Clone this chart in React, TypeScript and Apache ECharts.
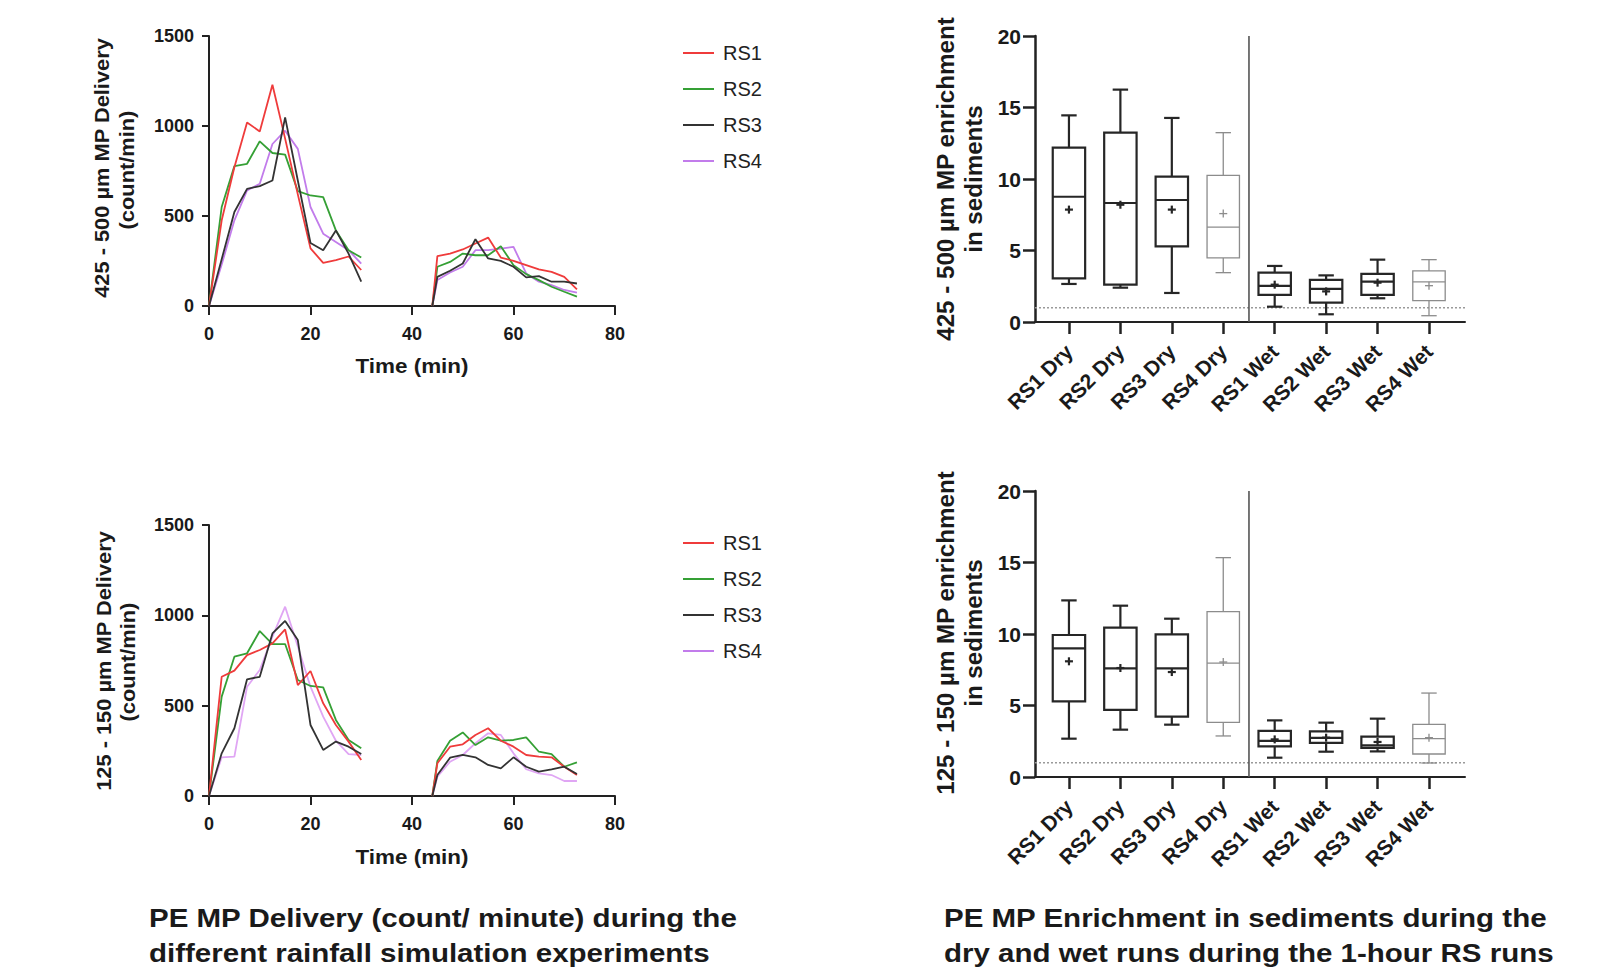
import React, { useEffect, useRef } from "react";
import * as echarts from "echarts";

// ---------- DATA ----------
const timesRun1 = [0, 2.5, 5, 7.5, 10, 12.5, 15, 17.5, 20, 22.5, 25, 27.5, 30];
const timesRun2 = [44, 45, 47.5, 50, 52.5, 55, 57.5, 60, 62.5, 65, 67.5, 70, 72.5];
const seriesNames = ["RS1", "RS2", "RS3", "RS4"];

// 425 - 500 µm delivery (count/min)
const big_RS1_run1 = [0, 476, 771, 1020, 970, 1229, 930, 620, 320, 240, 255, 275, 200];
const big_RS1_run2 = [0, 277, 291, 314, 347, 380, 269, 251, 227, 203, 190, 162, 92];
const big_RS2_run1 = [0, 550, 777, 790, 915, 850, 841, 638, 614, 605, 420, 310, 269];
const big_RS2_run2 = [0, 218, 245, 291, 282, 282, 332, 227, 177, 144, 107, 79, 52];
const big_RS3_run1 = [0, 260, 522, 651, 666, 697, 1048, 697, 350, 310, 420, 291, 135];
const big_RS3_run2 = [0, 162, 196, 236, 371, 264, 251, 218, 159, 166, 135, 135, 125];
const big_RS4_run1 = [0, 230, 476, 642, 679, 900, 974, 873, 550, 402, 356, 310, 236];
const big_RS4_run2 = [0, 144, 186, 218, 310, 310, 319, 328, 181, 135, 116, 89, 74];

// 125 - 150 µm delivery (count/min)
const small_RS1_run1 = [0, 660, 694, 780, 808, 845, 922, 614, 692, 513, 393, 301, 199];
const small_RS1_run2 = [0, 181, 273, 286, 338, 375, 306, 273, 227, 218, 214, 162, 116];
const small_RS2_run1 = [0, 550, 771, 790, 913, 841, 841, 642, 609, 601, 421, 310, 264];
const small_RS2_run2 = [0, 194, 306, 352, 282, 325, 306, 310, 325, 245, 232, 162, 186];
const small_RS3_run1 = [0, 236, 375, 646, 660, 900, 969, 863, 393, 255, 301, 273, 232];
const small_RS3_run2 = [0, 116, 212, 227, 214, 172, 153, 214, 162, 135, 148, 162, 122];
const small_RS4_run1 = [0, 214, 218, 605, 697, 882, 1048, 827, 605, 439, 306, 232, 227];
const small_RS4_run2 = [0, 107, 190, 227, 292, 347, 338, 236, 148, 125, 116, 83, 83];

// Enrichment box plots: [min, Q1, median, Q3, max, mean]
const boxCategories = ["RS1 Dry", "RS2 Dry", "RS3 Dry", "RS4 Dry", "RS1 Wet", "RS2 Wet", "RS3 Wet", "RS4 Wet"];
const bigBoxStats = [
  [2.66, 3.05, 8.76, 12.2, 14.45, 7.86],
  [2.4, 2.61, 8.32, 13.24, 16.25, 8.2],
  [2.03, 5.29, 8.53, 10.16, 14.27, 7.86],
  [3.45, 4.48, 6.64, 10.26, 13.24, 7.58],
  [1.07, 1.89, 2.52, 3.45, 3.92, 2.61],
  [0.54, 1.35, 2.31, 2.94, 3.26, 2.14],
  [1.66, 1.89, 2.82, 3.36, 4.36, 2.75],
  [0.44, 1.49, 2.8, 3.57, 4.36, 2.54],
];
const smallBoxStats = [
  [2.68, 5.29, 9.0, 9.93, 12.35, 8.09],
  [3.31, 4.69, 7.6, 10.44, 11.98, 7.62],
  [3.66, 4.22, 7.6, 9.98, 11.07, 7.34],
  [2.87, 3.82, 7.97, 11.56, 15.34, 8.04],
  [1.35, 2.14, 2.52, 3.22, 3.96, 2.63],
  [1.77, 2.38, 2.73, 3.19, 3.8, 2.75],
  [1.79, 2.03, 2.21, 2.82, 4.08, 2.45],
  [0.98, 1.61, 2.68, 3.68, 5.87, 2.75],
];
const enrichmentReference = 1; // dotted reference line
const dryWetDivider = 3.5; // between RS4 Dry and RS1 Wet

// ---------- STYLE ----------
const FONT = "'Liberation Sans', Arial, sans-serif";
const lineColorsTop = ["#ef3b3b", "#35a035", "#333333", "#c27ceb"];
const lineColorsBottom = ["#ef3b3b", "#35a035", "#333333", "#e0a6f4"];
const grayBoxIdx = [3, 7];

const buildLineData = (run1: number[], run2: number[]) => [
  ...timesRun1.map((t, i) => [t, run1[i]]),
  [37, "-"],
  ...timesRun2.map((t, i) => [t, run2[i]]),
];

export default function App() {
  const ref = useRef<HTMLDivElement>(null);

  useEffect(() => {
    if (!ref.current) return;
    const chart = echarts.init(ref.current, undefined, { renderer: "svg" });

    const axisLineStyle = { color: "#222", width: 2 };
    const lineGrids = [
      { left: 209, top: 36, width: 406, height: 270 },
      { left: 209, top: 525, width: 406, height: 271 },
    ];
    const boxGrids = [
      { left: 1035, top: 36, width: 430, height: 286 },
      { left: 1035, top: 491, width: 430, height: 286 },
    ];

    const xAxes: any[] = [];
    const yAxes: any[] = [];
    [0, 1].forEach((g) => {
      xAxes.push({
        type: "value",
        gridIndex: g,
        min: 0,
        max: 80,
        interval: 20,
        splitLine: { show: false },
        axisLine: { show: true, lineStyle: axisLineStyle, onZero: false },
        axisTick: { show: true, length: 9, lineStyle: { color: "#222", width: 2 } },
        axisLabel: { margin: 19, fontFamily: FONT, fontWeight: "bold", fontSize: 18, color: "#1a1a1a" },
      });
      yAxes.push({
        type: "value",
        gridIndex: g,
        min: 0,
        max: 1500,
        interval: 500,
        splitLine: { show: false },
        axisLine: { show: true, lineStyle: axisLineStyle, onZero: false },
        axisTick: { show: true, length: 7, lineStyle: { color: "#222", width: 2 } },
        axisLabel: {
          margin: 15,
          fontFamily: FONT,
          fontWeight: "bold",
          fontSize: 18,
          color: "#1a1a1a",
          formatter: (v: number) => String(v),
        },
      });
    });
    [2, 3].forEach((g) => {
      xAxes.push({
        type: "value",
        gridIndex: g,
        min: -0.66,
        max: 7.7,
        splitLine: { show: false },
        axisLine: { show: true, lineStyle: axisLineStyle, onZero: false },
        axisTick: {
          show: true,
          length: 12,
          lineStyle: { color: "#222", width: 2.5 },
          customValues: boxCategories.map((_, i) => i),
        },
        axisLabel: {
          margin: 26,
          rotate: 45,
          fontFamily: FONT,
          fontWeight: "bold",
          fontSize: 21,
          color: "#1a1a1a",
          customValues: boxCategories.map((_, i) => i),
          formatter: (v: number) => boxCategories[Math.round(v)] ?? "",
        },
      });
      yAxes.push({
        type: "value",
        gridIndex: g,
        min: 0,
        max: 20,
        interval: 5,
        splitLine: { show: false },
        axisLine: { show: true, lineStyle: { color: "#222", width: 2.5 }, onZero: false },
        axisTick: { show: true, length: 12, lineStyle: { color: "#222", width: 2.5 } },
        axisLabel: { margin: 14, fontFamily: FONT, fontWeight: "bold", fontSize: 21, color: "#1a1a1a" },
      });
    });

    const bigRuns = [
      [big_RS1_run1, big_RS1_run2],
      [big_RS2_run1, big_RS2_run2],
      [big_RS3_run1, big_RS3_run2],
      [big_RS4_run1, big_RS4_run2],
    ];
    const smallRuns = [
      [small_RS1_run1, small_RS1_run2],
      [small_RS2_run1, small_RS2_run2],
      [small_RS3_run1, small_RS3_run2],
      [small_RS4_run1, small_RS4_run2],
    ];

    const series: any[] = [];
    const order = [3, 1, 0, 2];
    order.forEach((i) => {
      series.push({
        type: "line",
        name: seriesNames[i],
        xAxisIndex: 0,
        yAxisIndex: 0,
        data: buildLineData(bigRuns[i][0], bigRuns[i][1]),
        showSymbol: false,
        symbol: "none",
        connectNulls: false,
        lineStyle: { width: 1.8, color: lineColorsTop[i] },
        itemStyle: { color: lineColorsTop[i] },
        z: 2,
      });
      series.push({
        type: "line",
        name: seriesNames[i],
        xAxisIndex: 1,
        yAxisIndex: 1,
        data: buildLineData(smallRuns[i][0], smallRuns[i][1]),
        showSymbol: false,
        symbol: "none",
        connectNulls: false,
        lineStyle: { width: 1.8, color: lineColorsBottom[i] },
        itemStyle: { color: lineColorsBottom[i] },
        z: 2,
      });
    });

    const renderBox = (params: any, api: any) => {
      const xi = api.value(0);
      const mn = api.value(1), q1 = api.value(2), md = api.value(3), q3 = api.value(4), mx = api.value(5), mean = api.value(6);
      const bw = api.size([1, 0])[0];
      const half = bw * 0.315;
      const cap = bw * 0.15;
      const pMin = api.coord([xi, mn]);
      const pQ1 = api.coord([xi, q1]);
      const pMd = api.coord([xi, md]);
      const pQ3 = api.coord([xi, q3]);
      const pMx = api.coord([xi, mx]);
      const pMean = api.coord([xi, mean]);
      const x0 = pMd[0];
      const gray = grayBoxIdx.includes(params.dataIndex);
      const stroke = gray ? "#8c8c8c" : "#262626";
      const lw = gray ? 1.3 : 2.2;
      const st = { stroke, lineWidth: lw, fill: "rgba(0,0,0,0)" };
      const m = 4;
      return {
        type: "group",
        children: [
          { type: "line", shape: { x1: x0, y1: pQ3[1], x2: x0, y2: pMx[1] }, style: st },
          { type: "line", shape: { x1: x0 - cap, y1: pMx[1], x2: x0 + cap, y2: pMx[1] }, style: st },
          { type: "line", shape: { x1: x0, y1: pQ1[1], x2: x0, y2: pMin[1] }, style: st },
          { type: "line", shape: { x1: x0 - cap, y1: pMin[1], x2: x0 + cap, y2: pMin[1] }, style: st },
          { type: "rect", shape: { x: x0 - half, y: pQ3[1], width: half * 2, height: pQ1[1] - pQ3[1] }, style: st },
          { type: "line", shape: { x1: x0 - half, y1: pMd[1], x2: x0 + half, y2: pMd[1] }, style: st },
          { type: "line", shape: { x1: x0 - m, y1: pMean[1], x2: x0 + m, y2: pMean[1] }, style: st },
          { type: "line", shape: { x1: x0, y1: pMean[1] - m, x2: x0, y2: pMean[1] + m }, style: st },
        ],
      };
    };

    [bigBoxStats, smallBoxStats].forEach((stats, k) => {
      const ax = 2 + k;
      series.push({
        type: "line",
        xAxisIndex: ax,
        yAxisIndex: ax,
        data: [
          [-0.66, enrichmentReference],
          [7.7, enrichmentReference],
        ],
        symbol: "none",
        silent: true,
        lineStyle: { color: "#9a9a9a", width: 1.5, type: [2, 2] },
        z: 1,
      });
      series.push({
        type: "line",
        xAxisIndex: ax,
        yAxisIndex: ax,
        data: [
          [dryWetDivider, 0],
          [dryWetDivider, 20],
        ],
        symbol: "none",
        silent: true,
        lineStyle: { color: "#555", width: 1.6 },
        z: 1,
      });
      series.push({
        type: "custom",
        xAxisIndex: ax,
        yAxisIndex: ax,
        renderItem: renderBox,
        encode: { x: 0, y: [1, 2, 3, 4, 5, 6] },
        data: stats.map((s, i) => [i, ...s]),
        z: 3,
      });
    });

    const legendCommon = {
      orient: "vertical",
      left: 678,
      icon: "rect",
      itemWidth: 31,
      itemHeight: 2,
      itemGap: 16,
      data: seriesNames,
      selectedMode: false,
      textStyle: { fontFamily: FONT, fontSize: 20, color: "#222", lineHeight: 20, padding: [0, 0, 0, 4] },
    };

    const txt = (x: number, y: number, text: string, size: number, rot = 0, align = "center", sx = 1) => ({
      type: "text",
      x,
      y,
      rotation: rot,
      scaleX: sx,
      style: {
        text,
        fontFamily: FONT,
        fontWeight: "bold",
        fontSize: size,
        fill: "#1a1a1a",
        align,
        verticalAlign: "middle",
      },
    });
    const R = Math.PI / 2;

    chart.setOption({
      animation: false,
      backgroundColor: "#ffffff",
      grid: [...lineGrids, ...boxGrids],
      xAxis: xAxes,
      yAxis: yAxes,
      legend: [
        { ...legendCommon, top: 38 },
        { ...legendCommon, top: 528 },
      ],
      series,
      graphic: [
        txt(102, 168, "425 - 500 µm MP Delivery", 21, R, "center", 1.04),
        txt(127, 170, "(count/min)", 21, R, "center", 1.04),
        txt(104, 661, "125 - 150 µm MP Delivery", 21, R, "center", 1.04),
        txt(128, 662, "(count/min)", 21, R, "center", 1.04),
        txt(946, 179, "425 - 500 µm MP enrichment", 23, R, "center", 1.05),
        txt(974, 179, "in sediments", 23, R, "center", 1.05),
        txt(946, 633, "125 - 150 µm MP enrichment", 23, R, "center", 1.05),
        txt(974, 633, "in sediments", 23, R, "center", 1.05),
        txt(412, 366, "Time (min)", 21, 0, "center", 1.07),
        txt(412, 857, "Time (min)", 21, 0, "center", 1.07),
        txt(149, 918, "PE MP Delivery (count/ minute) during the", 26, 0, "left", 1.135),
        txt(149, 953, "different rainfall simulation experiments", 26, 0, "left", 1.135),
        txt(944, 918, "PE MP Enrichment in sediments during the", 26, 0, "left", 1.135),
        txt(944, 953, "dry and wet runs during the 1-hour RS runs", 26, 0, "left", 1.135),
      ],
    });

    return () => chart.dispose();
  }, []);

  return (
    <div
      ref={ref}
      style={{ position: "absolute", left: 0, top: 0, width: 1605, height: 976 }}
    />
  );
}
